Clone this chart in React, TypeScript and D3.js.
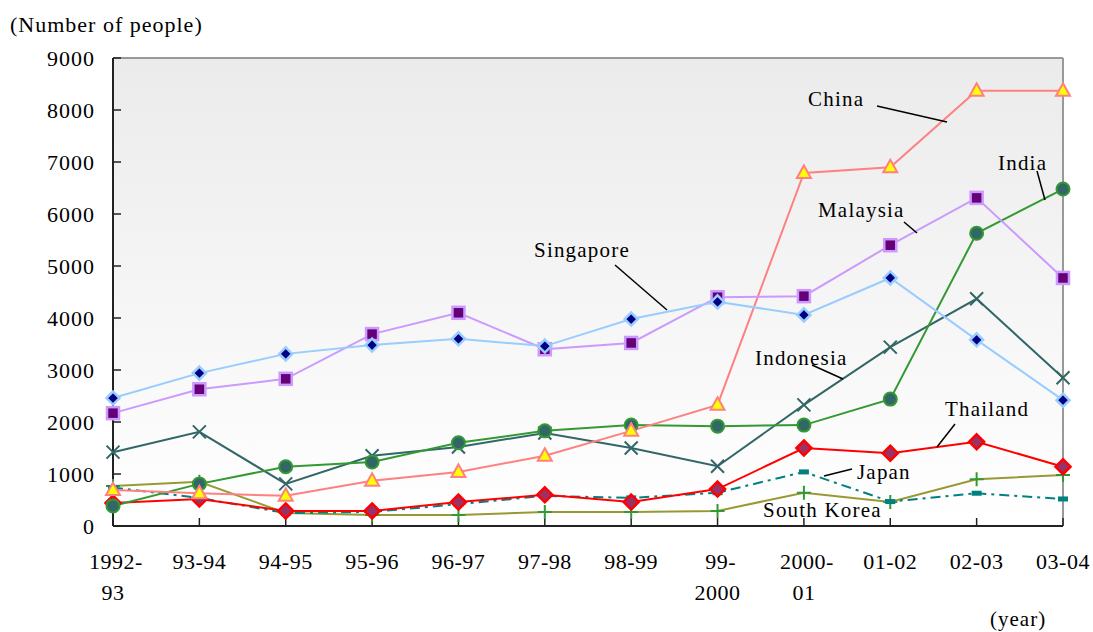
import React from "react";
import * as d3 from "d3";

const categories = ["1992-93", "93-94", "94-95", "95-96", "96-97", "97-98", "98-99", "99-2000", "2000-01", "01-02", "02-03", "03-04"];
const tickLabels = [["1992-", "93"], ["93-94"], ["94-95"], ["95-96"], ["96-97"], ["97-98"], ["98-99"], ["99-", "2000"], ["2000-", "01"], ["01-02"], ["02-03"], ["03-04"]];
const yTicks = [0, 1000, 2000, 3000, 4000, 5000, 6000, 7000, 8000, 9000];

const southKorea = [770, 850, 250, 210, 210, 270, 270, 290, 640, 460, 900, 980];
const japan = [740, 540, 250, 270, 420, 580, 540, 640, 1040, 470, 630, 520];
const thailand = [440, 520, 290, 290, 460, 600, 460, 710, 1500, 1400, 1620, 1140];
const indonesia = [1420, 1810, 810, 1350, 1520, 1790, 1500, 1150, 2330, 3440, 4370, 2850];
const india = [385, 810, 1140, 1230, 1600, 1830, 1940, 1920, 1940, 2440, 5630, 6480];
const china = [690, 630, 580, 870, 1040, 1350, 1830, 2330, 6790, 6900, 8370, 8370];
const malaysia = [2170, 2630, 2830, 3690, 4100, 3400, 3520, 4400, 4420, 5400, 6310, 4770];
const singapore = [2460, 2940, 3310, 3480, 3600, 3460, 3980, 4310, 4060, 4770, 3580, 2420];

type Marker = "diamond" | "square" | "triangle" | "circle" | "x" | "plus" | "dash";
interface Series { name: string; values: number[]; line: string; dash?: string; marker: Marker; fill: string; stroke: string; }

const series: Series[] = [
  { name: "South Korea", values: southKorea, line: "#999933", marker: "plus", fill: "none", stroke: "#339933" },
  { name: "Japan", values: japan, line: "#008080", dash: "10,5,3,5", marker: "dash", fill: "#008080", stroke: "none" },
  { name: "Thailand", values: thailand, line: "#ff0000", marker: "diamond", fill: "#993366", stroke: "#ff0000" },
  { name: "Indonesia", values: indonesia, line: "#336666", marker: "x", fill: "none", stroke: "#336666" },
  { name: "India", values: india, line: "#339933", marker: "circle", fill: "#336666", stroke: "#339933" },
  { name: "China", values: china, line: "#ff8080", marker: "triangle", fill: "#ffff00", stroke: "#ff8080" },
  { name: "Malaysia", values: malaysia, line: "#cc99ff", marker: "square", fill: "#660077", stroke: "#cc99ff" },
  { name: "Singapore", values: singapore, line: "#99ccff", marker: "diamond", fill: "#000080", stroke: "#99ccff" },
];

// annotation layout (pixels): text anchor and leader line
const labels = [
  { text: "China", x: 808, y: 106, line: [877, 106, 947, 122] },
  { text: "India", x: 998, y: 170, line: [1037, 171, 1045, 200] },
  { text: "Malaysia", x: 818, y: 217, line: [904, 222, 917, 233] },
  { text: "Singapore", x: 534, y: 257, line: [615, 265, 667, 310] },
  { text: "Indonesia", x: 755, y: 365, line: [812, 365, 843, 379] },
  { text: "Thailand", x: 945, y: 416, line: [955, 424, 937, 447] },
  { text: "Japan", x: 857, y: 479, line: [824, 476, 852, 469] },
  { text: "South Korea", x: 763, y: 517, line: null as number[] | null },
];

const W = 1093, H = 632;
const left = 113, right = 1063, top = 58, bottom = 526;
const FONT = "Liberation Serif";
const ts = { fontFamily: FONT } as React.CSSProperties;

function MarkerShape({ m, cx, cy, fill, stroke }: { m: Marker; cx: number; cy: number; fill: string; stroke: string }) {
  switch (m) {
    case "diamond": {
      const r = stroke === "#ff0000" ? 7.5 : 6.5;
      return <path d={`M${cx},${cy - r}L${cx + r},${cy}L${cx},${cy + r}L${cx - r},${cy}Z`} fill={fill} stroke={stroke} strokeWidth={2.5} />;
    }
    case "square":
      return <rect x={cx - 6} y={cy - 6} width={12} height={12} fill={fill} stroke={stroke} strokeWidth={2.5} />;
    case "triangle":
      return <path d={`M${cx},${cy - 7.5}L${cx + 7},${cy + 5}L${cx - 7},${cy + 5}Z`} fill={fill} stroke={stroke} strokeWidth={2} />;
    case "circle":
      return <circle cx={cx} cy={cy} r={6.5} fill={fill} stroke={stroke} strokeWidth={2} />;
    case "x":
      return <path d={`M${cx - 6.5},${cy - 6.5}L${cx + 6.5},${cy + 6.5}M${cx - 6.5},${cy + 6.5}L${cx + 6.5},${cy - 6.5}`} stroke={stroke} strokeWidth={2} fill="none" />;
    case "plus":
      return <path d={`M${cx - 7},${cy}L${cx + 7},${cy}M${cx},${cy - 7}L${cx},${cy + 7}`} stroke={stroke} strokeWidth={2} fill="none" />;
    case "dash":
      return <rect x={cx - 5} y={cy - 2.5} width={10} height={5} fill={fill} />;
  }
  return null;
}

export default function App() {
  const x = d3.scalePoint<string>().domain(categories).range([left, right]);
  const y = d3.scaleLinear().domain([0, 9000]).range([bottom, top]);
  const line = d3.line<number>().x((_, i) => x(categories[i]) as number).y((v) => y(v));

  return (
    <svg width={W} height={H} style={{ position: "absolute", left: 0, top: 0, background: "#fff" }}>
      <defs>
        <linearGradient id="bg" x1="0" y1="0" x2="0" y2="1">
          <stop offset="0" stopColor="#ebebeb" />
          <stop offset="1" stopColor="#ffffff" />
        </linearGradient>
      </defs>
      <rect x={left} y={top} width={right - left} height={bottom - top} fill="url(#bg)" />
      <line x1={left} y1={top} x2={right} y2={top} stroke="#999" strokeWidth={2} />
      <line x1={right} y1={top} x2={right} y2={bottom} stroke="#999" strokeWidth={2} />
      <line x1={left} y1={top} x2={left} y2={bottom} stroke="#222" strokeWidth={2} />
      <line x1={left} y1={bottom} x2={right} y2={bottom} stroke="#222" strokeWidth={2} />

      {yTicks.map((t) => (
        <g key={t}>
          <line x1={left} x2={left + 8} y1={y(t)} y2={y(t)} stroke="#222" strokeWidth={1.5} />
          <text x={95} y={y(t) + 7.5} textAnchor="end" fontSize={22} fill="#000" letterSpacing={1} style={ts}>{t}</text>
        </g>
      ))}

      {categories.map((c, i) => (
        <g key={c}>
          <line x1={x(c)} x2={x(c)} y1={bottom} y2={bottom - 8} stroke="#222" strokeWidth={1.5} />
          {tickLabels[i].map((s, j) => (
            <text key={j} x={(x(c) as number) + (s.endsWith("-") ? 3 : 0)} y={569 + j * 31} textAnchor="middle" fontSize={22} fill="#000" letterSpacing={0.5} style={ts}>{s}</text>
          ))}
        </g>
      ))}

      <text x={10} y={32} fontSize={22} fill="#000" letterSpacing={1} style={ts}>(Number of people)</text>
      <text x={990} y={626} fontSize={21} fill="#000" letterSpacing={1} style={ts}>(year)</text>

      {series.map((s) => (
        <path key={s.name} d={line(s.values) || ""} fill="none" stroke={s.line} strokeWidth={2} strokeDasharray={s.dash} />
      ))}
      {series.map((s) => (
        <g key={s.name + "-m"}>
          {s.values.map((v, i) => (
            <MarkerShape key={i} m={s.marker} cx={x(categories[i]) as number} cy={y(v)} fill={s.fill} stroke={s.stroke} />
          ))}
        </g>
      ))}

      {labels.map((l) => (
        <g key={l.text}>
          <text x={l.x} y={l.y} fontSize={21} fill="#000" letterSpacing={1.2} style={ts}>{l.text}</text>
          {l.line && <line x1={l.line[0]} y1={l.line[1]} x2={l.line[2]} y2={l.line[3]} stroke="#000" strokeWidth={1.5} />}
        </g>
      ))}
    </svg>
  );
}
